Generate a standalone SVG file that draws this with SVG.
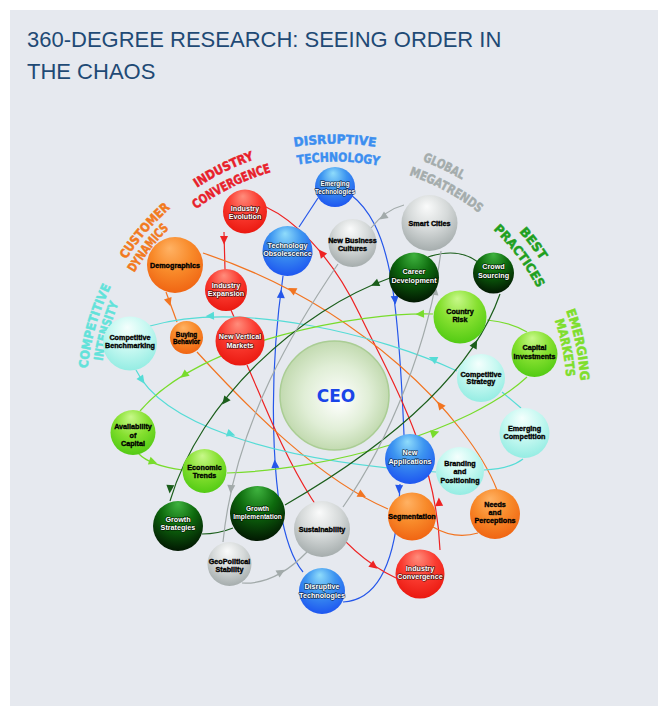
<svg xmlns="http://www.w3.org/2000/svg" width="658" height="706" viewBox="0 0 658 706">
  <defs>
    <style>
      .panel { fill: #e6e9ef; }
      .title { font-family: "Liberation Sans", Arial, sans-serif; font-size: 22px; fill: #1f4a75; }
      .cat { font-family: "DejaVu Sans", Verdana, sans-serif; font-weight: bold; font-size: 12.5px; stroke-width: 0.5; }
      .lbl { font-family: "Liberation Sans", Arial, sans-serif; font-weight: bold; font-size: 7.2px; text-anchor: middle; }
      .dk { fill: #000; stroke: #000; stroke-width: 0.35; }
      .lt { fill: #fff; paint-order: stroke; stroke: rgba(0,0,0,0.6); stroke-width: 1.5; stroke-linejoin: round; }
      .sm { font-size: 6.3px; }
      .ceo-txt { font-family: "DejaVu Sans", Verdana, sans-serif; font-weight: bold; font-size: 17px; fill: #1a45e8; text-anchor: middle; }
      .k-blue { fill: #3b8ef0; stroke: #3b8ef0; }
      .k-red { fill: #e8202a; stroke: #e8202a; }
      .k-orange { fill: #f27a1e; stroke: #f27a1e; }
      .k-cyan { fill: #62e2da; stroke: #62e2da; }
      .k-gray { fill: #a4acac; stroke: #a4acac; }
      .k-green { fill: #1fa01f; stroke: #1fa01f; }
      .k-lime { fill: #7ede2c; stroke: #7ede2c; }
      .c-blue { stroke: #2456ea; }
      .c-red { stroke: #ee2222; }
      .c-orange { stroke: #f27420; }
      .c-cyan { stroke: #55dcd6; }
      .c-lime { stroke: #78dc2c; }
      .c-dkgreen { stroke: #1b5e1b; }
      .c-gray { stroke: #a2aaaa; }
      .a-blue { fill: #2456ea; }
      .a-red { fill: #ee2222; }
      .a-orange { fill: #f27420; }
      .a-cyan { fill: #55dcd6; }
      .a-lime { fill: #78dc2c; }
      .a-dkgreen { fill: #1b5e1b; }
      .a-gray { fill: #a2aaaa; }
    </style>

    <!-- sphere shading -->
    <radialGradient id="g-blue" cx="0.5" cy="0.35" r="0.7" fx="0.45" fy="0.15">
      <stop offset="0" stop-color="#8fdcfb"/>
      <stop offset="0.45" stop-color="#3d95f0"/>
      <stop offset="1" stop-color="#1a4ff0"/>
    </radialGradient>
    <radialGradient id="g-red" cx="0.5" cy="0.35" r="0.7" fx="0.45" fy="0.15">
      <stop offset="0" stop-color="#ff8d7c"/>
      <stop offset="0.5" stop-color="#fa3b30"/>
      <stop offset="1" stop-color="#e8140c"/>
    </radialGradient>
    <radialGradient id="g-orange" cx="0.5" cy="0.35" r="0.7" fx="0.4" fy="0.2">
      <stop offset="0" stop-color="#ffb264"/>
      <stop offset="0.5" stop-color="#f88a2a"/>
      <stop offset="1" stop-color="#ef6010"/>
    </radialGradient>
    <radialGradient id="g-cyan" cx="0.5" cy="0.35" r="0.7" fx="0.45" fy="0.2">
      <stop offset="0" stop-color="#f4fffd"/>
      <stop offset="0.5" stop-color="#c6f8f1"/>
      <stop offset="1" stop-color="#8eebe1"/>
    </radialGradient>
    <radialGradient id="g-lime" cx="0.5" cy="0.35" r="0.7" fx="0.45" fy="0.15">
      <stop offset="0" stop-color="#c8f88a"/>
      <stop offset="0.5" stop-color="#86e030"/>
      <stop offset="1" stop-color="#4cc810"/>
    </radialGradient>
    <radialGradient id="g-dkgreen" cx="0.5" cy="0.3" r="0.75" fx="0.5" fy="0.05">
      <stop offset="0" stop-color="#3fb33f"/>
      <stop offset="0.45" stop-color="#0d6a0d"/>
      <stop offset="1" stop-color="#011001"/>
    </radialGradient>
    <radialGradient id="g-gray" cx="0.5" cy="0.35" r="0.7" fx="0.45" fy="0.2">
      <stop offset="0" stop-color="#fafbfb"/>
      <stop offset="0.5" stop-color="#d5d9d9"/>
      <stop offset="1" stop-color="#9fa7a7"/>
    </radialGradient>
    <radialGradient id="g-ceo" cx="0.5" cy="0.5" r="0.5" fx="0.55" fy="0.55">
      <stop offset="0" stop-color="#ffffff"/>
      <stop offset="0.6" stop-color="#e0eed6"/>
      <stop offset="1" stop-color="#c2dab0"/>
    </radialGradient>

    <!-- arrowhead, drawn pointing along +x -->
    <path id="ah" d="M4.5 0 L-4 -4 L-4 4 Z"/>

    <!-- label arcs around the hub, centred at the top; rotated into place -->
    <path id="arc252" d="M116.8 269 A252.5 252.5 0 0 1 553.2 269"/>
    <path id="arc250" d="M118.5 270 A250 250 0 0 1 551.5 270"/>
    <path id="arc249" d="M119.4 270.5 A249 249 0 0 1 550.6 270.5"/>
    <path id="arc246" d="M122 272 A246 246 0 0 1 548 272"/>
    <path id="arc235" d="M131.5 277.5 A235 235 0 0 1 538.5 277.5"/>
    <path id="arc233" d="M132.8 278.2 A233.5 233.5 0 0 1 537.2 278.2"/>
    <path id="arc232" d="M134.1 279 A232 232 0 0 1 535.9 279"/>
    <path id="arc229" d="M136.7 280.5 A229 229 0 0 1 533.3 280.5"/>
  </defs>

  <!-- backdrop -->
  <rect x="0" y="0" width="658" height="706" fill="#ffffff"/>
  <rect class="panel" x="10" y="10" width="648" height="696"/>

  <text class="title" x="27" y="47">360-DEGREE RESEARCH: SEEING ORDER IN</text>
  <text class="title" x="27" y="79">THE CHAOS</text>

  <!-- category titles -->
  <g id="categories">
    <text class="cat k-blue"><textPath href="#arc252" startOffset="50%" text-anchor="middle" textLength="82" lengthAdjust="spacingAndGlyphs">DISRUPTIVE</textPath></text>
    <text class="cat k-blue" transform="rotate(0.8 335 395)"><textPath href="#arc233" startOffset="50%" text-anchor="middle" textLength="82" lengthAdjust="spacingAndGlyphs">TECHNOLOGY</textPath></text>

    <text class="cat k-red" transform="rotate(-26.3 335 395)"><textPath href="#arc249" startOffset="50%" text-anchor="middle" textLength="64" lengthAdjust="spacingAndGlyphs">INDUSTRY</textPath></text>
    <text class="cat k-red" transform="rotate(-26.4 335 395)"><textPath href="#arc232" startOffset="50%" text-anchor="middle" textLength="84" lengthAdjust="spacingAndGlyphs">CONVERGENCE</textPath></text>

    <text class="cat k-orange" transform="rotate(-49.2 335 395)"><textPath href="#arc249" startOffset="50%" text-anchor="middle" textLength="68" lengthAdjust="spacingAndGlyphs">CUSTOMER</textPath></text>
    <text class="cat k-orange" transform="rotate(-51.8 335 395)"><textPath href="#arc235" startOffset="50%" text-anchor="middle" textLength="56" lengthAdjust="spacingAndGlyphs">DYNAMICS</textPath></text>

    <text class="cat k-cyan" transform="rotate(-74 335 395)"><textPath href="#arc249" startOffset="50%" text-anchor="middle" textLength="86" lengthAdjust="spacingAndGlyphs">COMPETITIVE</textPath></text>
    <text class="cat k-cyan" transform="rotate(-74.4 335 395)"><textPath href="#arc235" startOffset="50%" text-anchor="middle" textLength="60" lengthAdjust="spacingAndGlyphs">INTENSITY</textPath></text>

    <text class="cat k-gray" transform="rotate(25.5 335 395)"><textPath href="#arc250" startOffset="50%" text-anchor="middle" textLength="44" lengthAdjust="spacingAndGlyphs">GLOBAL</textPath></text>
    <text class="cat k-gray" transform="rotate(28.5 335 395)"><textPath href="#arc232" startOffset="50%" text-anchor="middle" textLength="80" lengthAdjust="spacingAndGlyphs">MEGATRENDS</textPath></text>

    <text class="cat k-green" transform="rotate(52.6 335 395)"><textPath href="#arc246" startOffset="50%" text-anchor="middle" textLength="36" lengthAdjust="spacingAndGlyphs">BEST</textPath></text>
    <text class="cat k-green" transform="rotate(53 335 395)"><textPath href="#arc229" startOffset="50%" text-anchor="middle" textLength="74" lengthAdjust="spacingAndGlyphs">PRACTICES</textPath></text>

    <text class="cat k-lime" transform="rotate(78.3 335 395)"><textPath href="#arc246" startOffset="50%" text-anchor="middle" textLength="72" lengthAdjust="spacingAndGlyphs">EMERGING</textPath></text>
    <text class="cat k-lime" transform="rotate(78.4 335 395)"><textPath href="#arc232" startOffset="50%" text-anchor="middle" textLength="58" lengthAdjust="spacingAndGlyphs">MARKETS</textPath></text>
  </g>

  <!-- orbits joining the nodes of each theme -->
  <g id="connectors" fill="none" stroke-width="1.2">
    <g class="c-blue">
      <path d="M350 194 C390 225 398 290 404 435"/>
      <path d="M400 484 C398 545 385 600 343 602"/>
      <path d="M303 572 C268 530 268 380 283 276"/>
      <path d="M318 198 L299 227"/>
    </g>
    <g class="c-red">
      <path d="M266 207 C292 219 330 252 360 315 C385 368 436 450 440 550"/>
      <path d="M224 232 L225 270"/>
      <path d="M231 310 L234 317"/>
      <path d="M247 365 C280 440 315 540 396 578"/>
    </g>
    <g class="c-orange">
      <path d="M497 490 C470 420 360 305 203 253"/>
      <path d="M166 292 L177 322"/>
      <path d="M197 352 C250 410 320 480 388 509"/>
      <path d="M433 527 Q455 540 478 533"/>
    </g>
    <g class="c-cyan">
      <path d="M457 371 C380 335 240 300 150 326"/>
      <path d="M502 392 L521 408"/>
      <path d="M523 459 Q510 469 484 470"/>
      <path d="M136 370 C160 420 260 460 436 472"/>
    </g>
    <g class="c-lime">
      <path d="M433 314 C360 312 200 340 140 411"/>
      <path d="M138 453 Q150 466 183 470"/>
      <path d="M227 473 C330 470 470 430 527 377"/>
      <path d="M527 332 Q510 322 487 320"/>
    </g>
    <g class="c-dkgreen">
      <path d="M428 257 Q458 247 478 262"/>
      <path d="M285 505 C380 450 470 380 500 294"/>
      <path d="M390 278 C300 310 200 400 170 501"/>
      <path d="M202 534 Q218 534 233 528"/>
    </g>
    <g class="c-gray">
      <path d="M404 205 Q385 210 371 228"/>
      <path d="M338 264 C300 320 235 420 223 542"/>
      <path d="M242 583 Q275 585 307 552"/>
      <path d="M343 507 C390 440 430 340 441 251"/>
    </g>

    <!-- direction markers -->
    <use href="#ah" class="a-blue" transform="translate(395 300) rotate(85)"/>
    <use href="#ah" class="a-blue" transform="translate(399 489) rotate(92)"/>
    <use href="#ah" class="a-blue" transform="translate(275 464) rotate(-95)"/>
    <use href="#ah" class="a-blue" transform="translate(281 294) rotate(-88)"/>

    <use href="#ah" class="a-red" transform="translate(321.5 253) rotate(-129)"/>
    <use href="#ah" class="a-red" transform="translate(224 240) rotate(90)"/>
    <use href="#ah" class="a-red" transform="translate(374 566) rotate(37)"/>
    <use href="#ah" class="a-red" transform="translate(439 502) rotate(-92)"/>

    <use href="#ah" class="a-orange" transform="translate(292 290) rotate(-152)"/>
    <use href="#ah" class="a-orange" transform="translate(440 405) rotate(-128)"/>
    <use href="#ah" class="a-orange" transform="translate(169 302) rotate(72)"/>
    <use href="#ah" class="a-orange" transform="translate(362 495) rotate(28)"/>

    <use href="#ah" class="a-cyan" transform="translate(433 359) rotate(-155)"/>
    <use href="#ah" class="a-cyan" transform="translate(210 316) rotate(178)"/>
    <use href="#ah" class="a-cyan" transform="translate(142 380) rotate(55)"/>
    <use href="#ah" class="a-cyan" transform="translate(231 434) rotate(18)"/>

    <use href="#ah" class="a-lime" transform="translate(420 314) rotate(178)"/>
    <use href="#ah" class="a-lime" transform="translate(184 375) rotate(142)"/>
    <use href="#ah" class="a-lime" transform="translate(153 462) rotate(20)"/>
    <use href="#ah" class="a-lime" transform="translate(435 433) rotate(-20)"/>

    <use href="#ah" class="a-dkgreen" transform="translate(375 284) rotate(156)"/>
    <use href="#ah" class="a-dkgreen" transform="translate(225 401) rotate(128)"/>
    <use href="#ah" class="a-dkgreen" transform="translate(170 489) rotate(95)"/>
    <use href="#ah" class="a-dkgreen" transform="translate(475 344) rotate(-62)"/>

    <use href="#ah" class="a-gray" transform="translate(383 217) rotate(145)"/>
    <use href="#ah" class="a-gray" transform="translate(231 489) rotate(94)"/>
    <use href="#ah" class="a-gray" transform="translate(281 572) rotate(-30)"/>
    <use href="#ah" class="a-gray" transform="translate(435 291) rotate(-82)"/>
  </g>

  <!-- hub -->
  <g id="ceo">
    <circle cx="334.5" cy="395.5" r="54.5" fill="url(#g-ceo)" stroke="#aacd94" stroke-width="1.5"/>
    <text class="ceo-txt" x="336" y="402">CEO</text>
  </g>

  <!-- disruptive technology -->
  <g id="emerging-technologies">
    <circle cx="335" cy="187" r="20" fill="url(#g-blue)"/>
    <text class="lbl lt sm" x="335" y="186">Emerging</text>
    <text class="lbl lt sm" x="335" y="193.5">Technologies</text>
  </g>
  <g id="technology-obsolescence">
    <circle cx="287.5" cy="251" r="25" fill="url(#g-blue)"/>
    <text class="lbl lt" x="287.5" y="247.5">Technology</text>
    <text class="lbl lt" x="287.5" y="256">Obsolescence</text>
  </g>
  <g id="new-applications">
    <circle cx="410" cy="459" r="25" fill="url(#g-blue)"/>
    <text class="lbl lt" x="410" y="455">New</text>
    <text class="lbl lt" x="410" y="464">Applications</text>
  </g>
  <g id="disruptive-technologies">
    <circle cx="322" cy="591" r="23" fill="url(#g-blue)"/>
    <text class="lbl lt" x="322" y="588.5">Disruptive</text>
    <text class="lbl lt" x="322" y="597.5">Technologies</text>
  </g>

  <!-- industry convergence -->
  <g id="industry-evolution">
    <circle cx="245" cy="211.5" r="22" fill="url(#g-red)"/>
    <text class="lbl lt" x="245" y="211">Industry</text>
    <text class="lbl lt" x="245" y="219">Evolution</text>
  </g>
  <g id="industry-expansion">
    <circle cx="226" cy="290" r="21" fill="url(#g-red)"/>
    <text class="lbl lt" x="226" y="287.5">Industry</text>
    <text class="lbl lt" x="226" y="296">Expansion</text>
  </g>
  <g id="new-vertical-markets">
    <circle cx="240" cy="341" r="24.5" fill="url(#g-red)"/>
    <text class="lbl lt" x="240" y="339">New Vertical</text>
    <text class="lbl lt" x="240" y="348">Markets</text>
  </g>
  <g id="industry-convergence">
    <circle cx="420" cy="574" r="24.5" fill="url(#g-red)"/>
    <text class="lbl lt" x="420" y="571">Industry</text>
    <text class="lbl lt" x="420" y="579">Convergence</text>
  </g>

  <!-- customer dynamics -->
  <g id="demographics">
    <circle cx="175" cy="265" r="28" fill="url(#g-orange)"/>
    <text class="lbl dk" x="175" y="267.5">Demographics</text>
  </g>
  <g id="buying-behavior">
    <circle cx="186.5" cy="337.5" r="16.5" fill="url(#g-orange)"/>
    <text class="lbl dk sm" x="186.5" y="336.5">Buying</text>
    <text class="lbl dk sm" x="186.5" y="344">Behavior</text>
  </g>
  <g id="segmentation">
    <circle cx="412" cy="516.5" r="24" fill="url(#g-orange)"/>
    <text class="lbl dk" x="412" y="518.5">Segmentation</text>
  </g>
  <g id="needs-and-perceptions">
    <circle cx="495" cy="514" r="25" fill="url(#g-orange)"/>
    <text class="lbl dk" x="495" y="507">Needs</text>
    <text class="lbl dk" x="495" y="514.5">and</text>
    <text class="lbl dk" x="495" y="522.5">Perceptions</text>
  </g>

  <!-- competitive intensity -->
  <g id="competitive-benchmarking">
    <circle cx="130" cy="343.5" r="27" fill="url(#g-cyan)"/>
    <text class="lbl dk" x="130" y="340">Competitive</text>
    <text class="lbl dk" x="130" y="348">Benchmarking</text>
  </g>
  <g id="competitive-strategy">
    <circle cx="481" cy="378" r="24" fill="url(#g-cyan)"/>
    <text class="lbl dk" x="481" y="376.5">Competitive</text>
    <text class="lbl dk" x="481" y="384">Strategy</text>
  </g>
  <g id="emerging-competition">
    <circle cx="524.5" cy="433" r="25" fill="url(#g-cyan)"/>
    <text class="lbl dk" x="524.5" y="431">Emerging</text>
    <text class="lbl dk" x="524.5" y="438.5">Competition</text>
  </g>
  <g id="branding-and-positioning">
    <circle cx="460" cy="471" r="24" fill="url(#g-cyan)"/>
    <text class="lbl dk" x="460" y="466">Branding</text>
    <text class="lbl dk" x="460" y="474">and</text>
    <text class="lbl dk" x="460" y="482.5">Positioning</text>
  </g>

  <!-- emerging markets -->
  <g id="country-risk">
    <circle cx="460" cy="317" r="26.5" fill="url(#g-lime)"/>
    <text class="lbl dk" x="460" y="314">Country</text>
    <text class="lbl dk" x="460" y="322">Risk</text>
  </g>
  <g id="capital-investments">
    <circle cx="534.5" cy="354" r="23" fill="url(#g-lime)"/>
    <text class="lbl dk" x="534.5" y="350">Capital</text>
    <text class="lbl dk" x="534.5" y="358.5">Investments</text>
  </g>
  <g id="availability-of-capital">
    <circle cx="133" cy="432.5" r="22.5" fill="url(#g-lime)"/>
    <text class="lbl dk" x="133" y="429">Availability</text>
    <text class="lbl dk" x="133" y="437.5">of</text>
    <text class="lbl dk" x="133" y="446">Capital</text>
  </g>
  <g id="economic-trends">
    <circle cx="204.5" cy="471" r="22" fill="url(#g-lime)"/>
    <text class="lbl dk" x="204.5" y="470">Economic</text>
    <text class="lbl dk" x="204.5" y="478">Trends</text>
  </g>

  <!-- best practices -->
  <g id="career-development">
    <circle cx="414" cy="277.5" r="25" fill="url(#g-dkgreen)"/>
    <text class="lbl lt" x="414" y="274">Career</text>
    <text class="lbl lt" x="414" y="282.5">Development</text>
  </g>
  <g id="crowd-sourcing">
    <circle cx="493.5" cy="273" r="20.5" fill="url(#g-dkgreen)"/>
    <text class="lbl lt" x="493.5" y="269">Crowd</text>
    <text class="lbl lt" x="493.5" y="277.5">Sourcing</text>
  </g>
  <g id="growth-strategies">
    <circle cx="178" cy="526" r="25" fill="url(#g-dkgreen)"/>
    <text class="lbl lt" x="178" y="522">Growth</text>
    <text class="lbl lt" x="178" y="530">Strategies</text>
  </g>
  <g id="growth-implementation">
    <circle cx="257.5" cy="513.5" r="27.5" fill="url(#g-dkgreen)"/>
    <text class="lbl lt" x="257.5" y="511" style="font-size:6.6px">Growth</text>
    <text class="lbl lt" x="257.5" y="518.5" style="font-size:6.6px">Implementation</text>
  </g>

  <!-- global megatrends -->
  <g id="smart-cities">
    <circle cx="429.5" cy="223" r="28" fill="url(#g-gray)"/>
    <text class="lbl dk" x="429.5" y="226">Smart Cities</text>
  </g>
  <g id="new-business-cultures">
    <circle cx="352.5" cy="243" r="24" fill="url(#g-gray)"/>
    <text class="lbl dk" x="352.5" y="242.5">New Business</text>
    <text class="lbl dk" x="352.5" y="251">Cultures</text>
  </g>
  <g id="sustainability">
    <circle cx="322" cy="529" r="28" fill="url(#g-gray)"/>
    <text class="lbl dk" x="322" y="532">Sustainability</text>
  </g>
  <g id="geopolitical-stability">
    <circle cx="229.5" cy="564" r="22" fill="url(#g-gray)"/>
    <text class="lbl dk" x="229.5" y="563.5">GeoPolitical</text>
    <text class="lbl dk" x="229.5" y="571.5">Stability</text>
  </g>
</svg>
